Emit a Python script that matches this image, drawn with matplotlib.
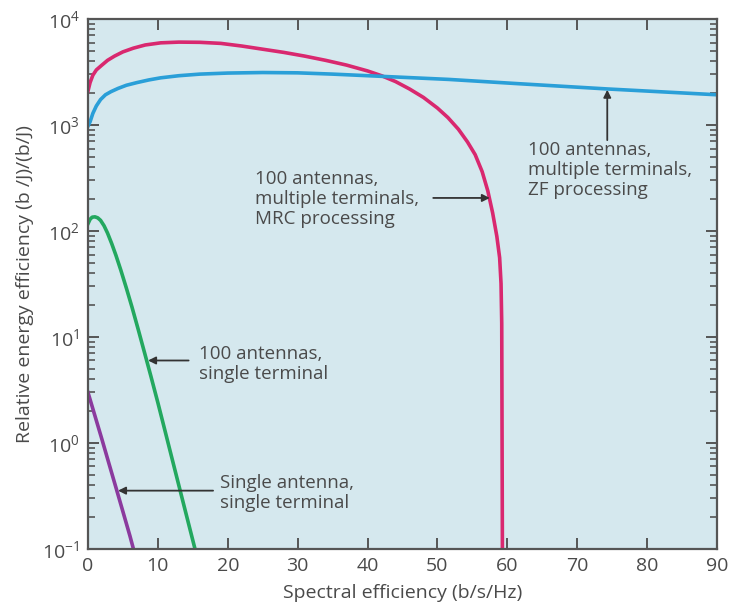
import matplotlib
matplotlib.use("Agg")
import matplotlib.pyplot as plt
from matplotlib import ticker

plt.rcParams['font.family'] = ['Open Sans', 'DejaVu Sans']
plt.rcParams['mathtext.fontset'] = 'custom'
plt.rcParams['mathtext.rm'] = 'Open Sans'
plt.rcParams['mathtext.default'] = 'regular'

# ---- data ----
mrc_x = [0.0, 0.3, 0.7, 1.2, 1.9, 2.8, 3.8, 5.0, 6.5, 8.2, 10.4, 13.0, 16.0, 19.0, 22.0, 25.0,
         28.0, 31.0, 34.0, 37.0, 40.0, 42.0, 44.0, 46.0, 48.0, 50.0, 51.5, 53.0, 54.3, 55.4,
         56.4, 57.2, 57.9, 58.5, 58.9, 59.1, 59.2, 59.3]
mrc_y = [2089, 2512, 2951, 3311, 3631, 4074, 4467, 4898, 5309, 5689, 5957, 6053, 6026, 5888,
         5559, 5188, 4842, 4467, 4074, 3673, 3236, 2917, 2570, 2188, 1820, 1445, 1175, 912,
         692, 525, 363, 240, 148, 89, 56, 32, 13.5, 0.08]

zf_x = [0.0, 0.3, 0.7, 1.2, 1.8, 2.5, 3.3, 4.3, 5.5, 7.0, 8.7, 10.4, 13.0, 16.0, 20.0, 25.0,
        30.0, 35.0, 41.7, 51.6, 61.5, 74.3, 90.0]
zf_y = [977, 1072, 1288, 1514, 1738, 1928, 2065, 2213, 2371, 2512, 2661, 2786, 2917, 3020,
        3090, 3126, 3105, 3020, 2884, 2692, 2455, 2188, 1928]

single_term_x = [0.0, 0.3, 0.6, 1.0, 1.4, 1.8, 2.3, 2.8, 3.4, 4.0, 4.7, 5.5, 6.3, 7.2, 8.1,
                 9.0, 10.0, 11.0, 12.0, 13.0, 14.0, 15.7]
single_term_y = [117, 129, 135, 136, 133, 126, 112, 95.5, 75.9, 58.9, 42.7, 28.8, 19.1, 11.7,
                 7.08, 4.27, 2.40, 1.32, 0.724, 0.398, 0.219, 0.0794]

single_ant_x = [0.0, 1.0, 2.0, 3.0, 4.0, 5.0, 6.0, 6.9]
single_ant_y = [3.0, 1.8, 1.08, 0.64, 0.38, 0.225, 0.133, 0.08]

x_ticks = [0, 10, 20, 30, 40, 50, 60, 70, 80, 90]

# ---- figure ----
fig = plt.figure(figsize=(7.35, 6.07), dpi=100)
ax = fig.add_axes([0.1197, 0.0956, 0.8558, 0.8731])
ax.set_facecolor('#d5e8ee')

lw = 2.6
ax.plot(mrc_x, mrc_y, color='#d9286f', lw=lw, solid_joinstyle='round')
ax.plot(zf_x, zf_y, color='#2a9fd8', lw=lw, solid_joinstyle='round')
ax.plot(single_term_x, single_term_y, color='#23a85f', lw=lw, solid_joinstyle='round')
ax.plot(single_ant_x, single_ant_y, color='#8b3a9e', lw=lw)

ax.set_yscale('log')
ax.set_xlim(0, 90)
ax.set_ylim(1e-1, 1e4)
ax.set_xticks(x_ticks)
ax.set_xticklabels([str(v) for v in x_ticks])
ax.yaxis.set_major_locator(ticker.LogLocator(base=10, numticks=10))
ax.yaxis.set_minor_locator(ticker.LogLocator(base=10, subs=range(2, 10), numticks=20))
ax.yaxis.set_major_formatter(ticker.LogFormatterMathtext())
ax.yaxis.set_minor_formatter(ticker.NullFormatter())

tc = '#555555'
for s in ax.spines.values():
    s.set_color(tc)
    s.set_linewidth(1.6)
ax.tick_params(which='major', direction='in', length=8, width=1.4, color=tc,
               top=True, right=True, labelsize=14, labelcolor='#4a4a4a', pad=6)
ax.tick_params(which='minor', direction='in', length=5, width=1.2, color=tc,
               top=False, right=True)

ax.set_xlabel('Spectral efficiency (b/s/Hz)', fontsize=14, color='#4a4a4a', labelpad=6)
ax.set_ylabel('Relative energy efficiency (b /J)/(b/J)', fontsize=14, color='#4a4a4a', labelpad=6)

tcol = '#4a4a4a'
acol = '#333333'
fs = 13.5
ls = 1.15
aprops = dict(arrowstyle='-|>', color=acol, lw=1.3, mutation_scale=11, shrinkA=0, shrinkB=0)

# ZF annotation
ax.annotate('', xy=(74.3, 2150), xytext=(74.3, 720), arrowprops=aprops)
ax.text(62.9, 375, '100 antennas,\nmultiple terminals,\nZF processing', fontsize=fs,
        color=tcol, va='center', ha='left', linespacing=ls)

# MRC annotation
ax.annotate('', xy=(57.5, 205), xytext=(49.4, 205), arrowprops=aprops)
ax.text(23.9, 200, '100 antennas,\nmultiple terminals,\nMRC processing', fontsize=fs,
        color=tcol, va='center', ha='left', linespacing=ls)

# single terminal
ax.annotate('', xy=(8.6, 6.0), xytext=(14.4, 6.0), arrowprops=aprops)
ax.text(15.9, 5.6, '100 antennas,\nsingle terminal', fontsize=fs,
        color=tcol, va='center', ha='left', linespacing=ls)

# single antenna
ax.annotate('', xy=(4.3, 0.355), xytext=(17.9, 0.355), arrowprops=aprops)
ax.text(18.9, 0.34, 'Single antenna,\nsingle terminal', fontsize=fs,
        color=tcol, va='center', ha='left', linespacing=ls)

fig.savefig('out.png', dpi=100)
